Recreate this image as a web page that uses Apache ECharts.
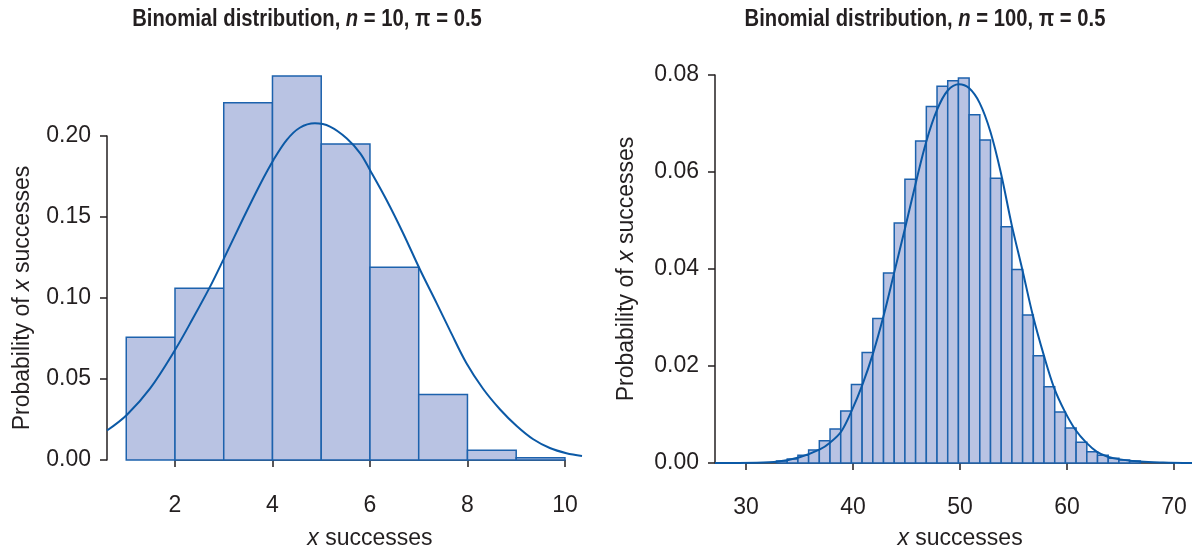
<!DOCTYPE html>
<html>
<head>
<meta charset="utf-8">
<script src="https://cdn.jsdelivr.net/npm/echarts@6/dist/echarts.min.js"></script>
<style>
  html, body { margin: 0; padding: 0; background: #ffffff; }
  #chart { width: 1197px; height: 550px; }
</style>
</head>
<body>
<div id="chart"></div>
<script>
// ---- n = 10 : histogram bins (left edge, right edge) and relative frequencies
const binLeftN10  = [1, 2, 3, 4, 5, 6, 7, 8, 9];
const binRightN10 = [2, 3, 4, 5, 6, 7, 8, 9, 10];
const freqN10     = [0.0757, 0.106, 0.2206, 0.237, 0.195, 0.119, 0.0405, 0.006, 0.0014];

// ---- n = 10 : fitted normal curve
const curveXN10 = [0.605, 1.01, 1.49, 2.0, 2.36, 2.72, 2.99, 3.40, 3.74, 4.02, 4.29, 4.56, 4.87, 5.18, 5.52,
                   5.80, 6.00, 6.34, 6.68, 7.03, 7.37, 7.64, 7.98, 8.32, 8.67, 9.01, 9.35, 9.69, 10.03, 10.35];
const curveYN10 = [0.0182, 0.0278, 0.0442, 0.0679, 0.087, 0.107, 0.1235, 0.1492, 0.1698, 0.1852, 0.1975, 0.2051, 0.2078, 0.2058, 0.1986,
                   0.1893, 0.179, 0.1605, 0.140, 0.1173, 0.0967, 0.080, 0.0597, 0.0440, 0.0312, 0.0210, 0.0128, 0.0074, 0.0042, 0.0025];

// ---- n = 100 : histogram breaks and relative frequencies
const breaksN100 = [32.85, 33.85, 34.85, 35.85, 36.85, 37.85, 38.85, 39.85, 40.85, 41.85, 42.85, 43.85,
                    44.85, 45.85, 46.85, 47.85, 48.85, 49.85, 50.85, 51.85, 52.85, 53.85, 54.85, 55.85,
                    56.85, 57.85, 58.85, 59.85, 60.85, 61.85, 62.85, 63.85, 64.85, 65.85, 66.85];
const freqN100 = [0.0004, 0.0008, 0.0016, 0.0027, 0.0046, 0.0070, 0.0107, 0.0162, 0.0228, 0.0298,
                  0.0392, 0.0495, 0.0585, 0.0664, 0.0735, 0.0777, 0.0788, 0.0794, 0.0718, 0.0666,
                  0.0587, 0.0487, 0.0399, 0.0305, 0.0221, 0.0157, 0.0105, 0.0072, 0.0043, 0.0023,
                  0.0016, 0.0010, 0.0006, 0.0004];

// ---- n = 100 : fitted normal curve
const curveXN100 = [27.1, 31, 33, 35, 36.9, 37.9, 38.9, 39.9, 40.87, 41.87, 42.85, 43.83, 44.86, 45.86, 46.85, 47.85, 48.85, 49.9,
                    50.84, 51.84, 52.84, 53.83, 54.83, 55.83, 56.82, 57.82, 58.81, 59.8, 60.8, 61.8, 62.8, 63.8, 64.8, 66.8, 69, 71.68];
const curveYN100 = [0, 0.00005, 0.0003, 0.0012, 0.0028, 0.0043, 0.0065, 0.0109, 0.0161, 0.0226, 0.0303, 0.0391, 0.0484, 0.0577, 0.0663, 0.0728, 0.0768, 0.0781,
                    0.0773, 0.0742, 0.0683, 0.0597, 0.0491, 0.0398, 0.0303, 0.0223, 0.0154, 0.0106, 0.0068, 0.0042, 0.0023, 0.0013, 0.0008, 0.0003, 0.0001, 0];

// ---- axis ticks and plotting ranges
const xTicksN10  = { min: 2, max: 10, step: 2 };
const yTicksN10  = { min: 0, max: 0.20, step: 0.05 };
const xTicksN100 = { min: 30, max: 70, step: 10 };
const yTicksN100 = { min: 0, max: 0.08, step: 0.02 };
const xRangeN10  = [0.605, 10.35];
const xRangeN100 = [27.1, 71.68];

const titleN10  = ['Binomial distribution, ', 'n', ' = 10, π = 0.5'];
const titleN100 = ['Binomial distribution, ', 'n', ' = 100, π = 0.5'];

// ---- styling
const FONT = "'Liberation Sans', Arial, Helvetica, sans-serif";
const TEXT = '#231f20';
const AXIS = '#231f20';
const FILL = '#b9c3e3';
const EDGE = '#1d62ad';
const CURVE = '#0b59a6';

// plot panels in pixels: data area of each panel (its left edge carries the y axis)
const panelN10  = { left: 107, top: 136, width: 475, height: 324 };
const panelN100 = { left: 715, top: 75, width: 477, height: 388 };

// grid that spans only the tick range of the x axis, so its axis line runs tick to tick
function tickGrid(panel, range, ticks) {
  const span = range[1] - range[0];
  const l = panel.left + (ticks.min - range[0]) / span * panel.width;
  const r = panel.left + (ticks.max - range[0]) / span * panel.width;
  return { left: l, top: panel.top, width: r - l, height: panel.height, outerBoundsMode: 'none' };
}

const nameRich = {
  n: { fontFamily: FONT, fontSize: 23, color: TEXT },
  i: { fontFamily: FONT, fontSize: 23, color: TEXT, fontStyle: 'italic' }
};

function hiddenX(grid, range) {
  return { gridIndex: grid, type: 'value', min: range[0], max: range[1], show: false, splitLine: { show: false } };
}
function hiddenY(grid, t) {
  return { gridIndex: grid, type: 'value', min: t.min, max: t.max, show: false, splitLine: { show: false } };
}

function xAxisCfg(grid, t, labelMargin, nameGap) {
  return {
    gridIndex: grid, type: 'value', min: t.min, max: t.max, interval: t.step, offset: 18,
    axisLine: { show: true, lineStyle: { color: AXIS, width: 1.5 } },
    axisTick: { show: true, length: 7, lineStyle: { color: AXIS, width: 1.5 } },
    splitLine: { show: false },
    axisLabel: { color: TEXT, fontFamily: FONT, fontSize: 23, margin: labelMargin },
    name: '{i|x}{n| successes}', nameLocation: 'middle', nameGap: nameGap,
    nameTextStyle: { rich: nameRich }
  };
}

function yAxisCfg(grid, t, gap) {
  return {
    gridIndex: grid, type: 'value', min: t.min, max: t.max, interval: t.step,
    axisLine: { show: true, lineStyle: { color: AXIS, width: 1.5 } },
    axisTick: { show: true, length: 7, lineStyle: { color: AXIS, width: 1.5 } },
    splitLine: { show: false },
    axisLabel: { color: TEXT, fontFamily: FONT, fontSize: 23, margin: 16, formatter: v => v.toFixed(2) },
    name: '{n|Probability of }{i|x}{n| successes}', nameLocation: 'middle', nameGap: gap,
    nameTextStyle: { rich: nameRich }
  };
}

function renderBin(params, api) {
  const top = api.coord([api.value(0), api.value(2)]);
  const base = api.coord([api.value(1), 0]);
  return {
    type: 'rect',
    shape: { x: top[0], y: top[1], width: base[0] - top[0], height: base[1] - top[1] },
    style: { fill: FILL, stroke: EDGE, lineWidth: 1.5 }
  };
}

const binsN10 = binLeftN10.map((l, i) => [l, binRightN10[i], freqN10[i]]);
const binsN100 = freqN100.map((f, i) => [breaksN100[i], breaksN100[i + 1], f]);
const lineN10 = curveXN10.map((x, i) => [x, curveYN10[i]]);
const lineN100 = curveXN100.map((x, i) => [x, curveYN100[i]]);

function titleText(parts, cx) {
  return {
    type: 'text', x: cx, y: 20, scaleX: 0.88,
    style: {
      text: '{b|' + parts[0] + '}{bi|' + parts[1] + '}{b|' + parts[2] + '}',
      align: 'center', verticalAlign: 'middle',
      rich: {
        b:  { fontFamily: FONT, fontSize: 23, fontWeight: 'bold', fill: TEXT },
        bi: { fontFamily: FONT, fontSize: 23, fontWeight: 'bold', fontStyle: 'italic', fill: TEXT }
      }
    }
  };
}

function curveSeries(axisIdx, data) {
  return {
    type: 'line', xAxisIndex: axisIdx, yAxisIndex: axisIdx, data: data,
    smooth: 0.35,
    showSymbol: false, clip: false, silent: true,
    lineStyle: { color: CURVE, width: 2 }
  };
}

const chart = echarts.init(document.getElementById('chart'), null, { renderer: 'canvas' });
chart.setOption({
  animation: false,
  backgroundColor: '#ffffff',
  grid: [
    Object.assign({ outerBoundsMode: 'none' }, panelN10),
    tickGrid(panelN10, xRangeN10, xTicksN10),
    Object.assign({ outerBoundsMode: 'none' }, panelN100),
    tickGrid(panelN100, xRangeN100, xTicksN100)
  ],
  xAxis: [
    hiddenX(0, xRangeN10),
    xAxisCfg(1, xTicksN10, 16, 49),
    hiddenX(2, xRangeN100),
    xAxisCfg(3, xTicksN100, 15, 46)
  ],
  yAxis: [
    yAxisCfg(0, yTicksN10, 73),
    hiddenY(1, yTicksN10),
    yAxisCfg(2, yTicksN100, 77),
    hiddenY(3, yTicksN100)
  ],
  graphic: [titleText(titleN10, 307), titleText(titleN100, 925)],
  series: [
    {
      type: 'custom', xAxisIndex: 0, yAxisIndex: 0, data: binsN10,
      encode: { x: [0, 1], y: 2 }, renderItem: renderBin, clip: false, silent: true
    },
    curveSeries(0, lineN10),
    {
      type: 'custom', xAxisIndex: 2, yAxisIndex: 2, data: binsN100,
      encode: { x: [0, 1], y: 2 }, renderItem: renderBin, clip: false, silent: true
    },
    curveSeries(2, lineN100)
  ]
});
</script>
</body>
</html>
